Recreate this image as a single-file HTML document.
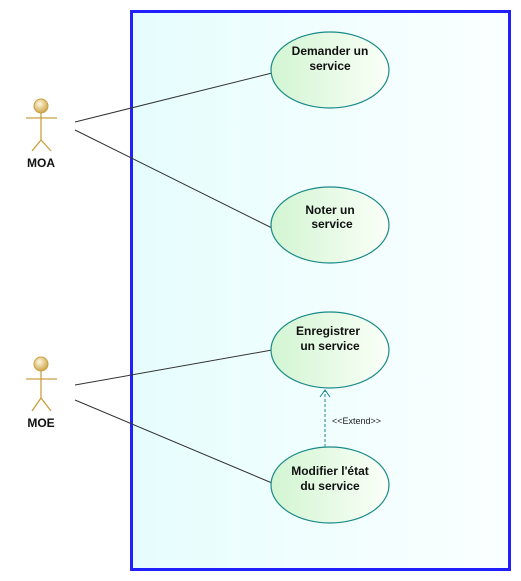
<!DOCTYPE html>
<html><head><style>body{margin:0;background:#fff}svg{display:block}</style></head><body>
<svg width="521" height="581" xmlns="http://www.w3.org/2000/svg" font-family="Liberation Sans, sans-serif">
<defs>
<linearGradient id="bg" x1="0" x2="1"><stop offset="0" stop-color="#e6fdfd"/><stop offset="1" stop-color="#fbffff"/></linearGradient>
<linearGradient id="el" x1="0" x2="1"><stop offset="0" stop-color="#d2f5d2"/><stop offset="1" stop-color="#fbfff8"/></linearGradient>
<radialGradient id="hd" cx="0.4" cy="0.35" r="0.7"><stop offset="0" stop-color="#fff8e0"/><stop offset="1" stop-color="#c9a040"/></radialGradient>
</defs>
<rect x="131.5" y="11.5" width="378" height="558" fill="url(#bg)" stroke="#2020ff" stroke-width="3"/>
<g stroke="#333" stroke-width="1">
<line x1="75" y1="122" x2="272" y2="73"/>
<line x1="75" y1="130" x2="272" y2="228"/>
<line x1="75" y1="385" x2="272" y2="350"/>
<line x1="75" y1="400" x2="272" y2="483"/>
</g>
<g fill="url(#el)" stroke="#1a8a8a" stroke-width="1.2">
<ellipse cx="330" cy="70" rx="59" ry="38"/>
<ellipse cx="330" cy="225" rx="59" ry="38"/>
<ellipse cx="330" cy="350" rx="59" ry="38"/>
<ellipse cx="330" cy="485" rx="59" ry="38"/>
</g>
<line x1="325" y1="447" x2="325" y2="390" stroke="#1a8a8a" stroke-dasharray="3,2"/>
<polyline points="320,397 325,390 330,397" fill="none" stroke="#1a8a8a"/>
<text x="332" y="424" font-size="9" fill="#222">&lt;&lt;Extend&gt;&gt;</text>
<g font-size="12" font-weight="bold" text-anchor="middle" fill="#111">
<text x="330" y="55">Demander un</text><text x="330" y="70">service</text>
<text x="330" y="214">Noter un</text><text x="332" y="228">service</text>
<text x="328" y="335">Enregistrer</text><text x="330" y="350">un service</text>
<text x="330" y="475">Modifier l'état</text><text x="330" y="490">du service</text>
</g>
<g stroke="#c9a040" stroke-width="1.3" fill="none">
<line x1="41" y1="113" x2="41" y2="140"/><line x1="26" y1="118" x2="57" y2="118"/>
<polyline points="32,151 41,140 51,151"/>
<line x1="41" y1="371" x2="41" y2="398"/><line x1="26" y1="379" x2="57" y2="379"/>
<polyline points="32,411 41,398 51,411"/>
</g>
<circle cx="41" cy="106" r="7" fill="url(#hd)" stroke="#c9a040"/>
<circle cx="41" cy="364" r="7" fill="url(#hd)" stroke="#c9a040"/>
<g font-size="12" font-weight="bold" text-anchor="middle" fill="#111">
<text x="41" y="167">MOA</text><text x="41" y="427">MOE</text>
</g>
</svg>
</body></html>
